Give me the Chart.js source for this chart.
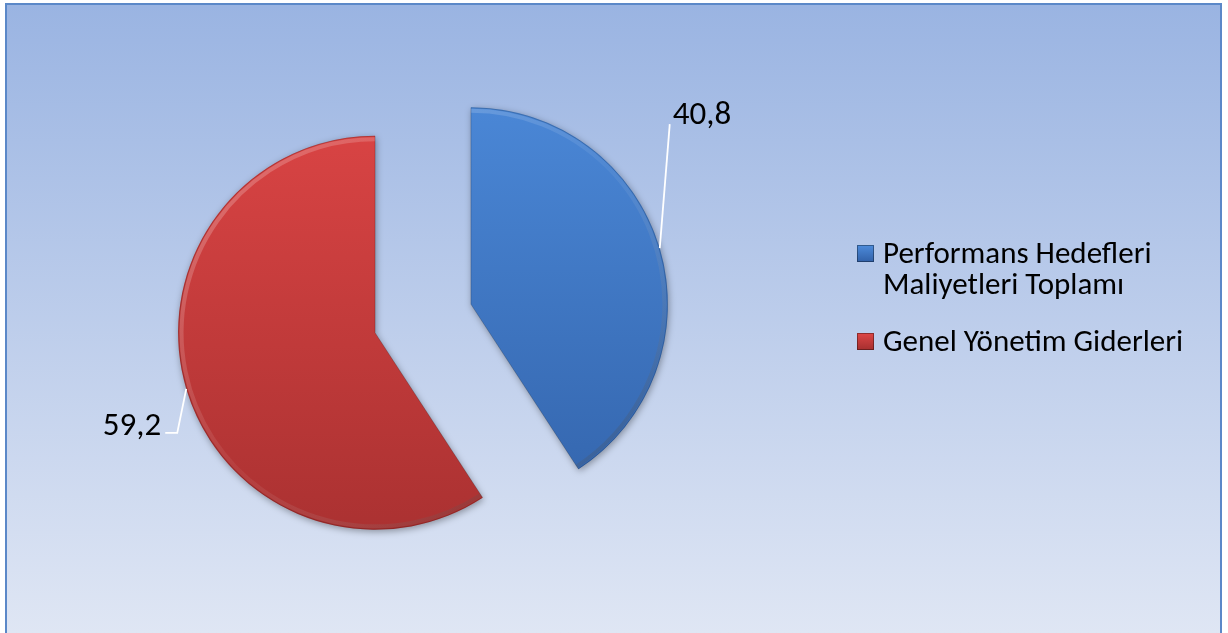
<!DOCTYPE html>
<html><head><meta charset="utf-8">
<script src="https://cdn.jsdelivr.net/npm/chart.js@4/dist/chart.umd.min.js"></script>
<style>html,body{margin:0;padding:0;background:#fff;overflow:hidden}#wrap{width:1228px;height:633px;position:relative}</style>
</head><body><div id="wrap"><canvas id="c" width="1228" height="633"></canvas></div>
<script>
// ---- data ----
const categories = ['Performans Hedefleri Maliyetleri Toplamı', 'Genel Yönetim Giderleri'];
const legendLines = [['Performans Hedefleri', 'Maliyetleri Toplamı'], ['Genel Yönetim Giderleri']];
const values = [40.8, 59.2];

// ---- styles ----
const sliceTop = ['#4d8bdb', '#de4646'];
const sliceBottom = ['#3161a8', '#a52f2f'];
const FONT = 'Carlito, Lato, "Open Sans", sans-serif';

function sliceGradient(ctx, i) {
  const chart = ctx.chart;
  const a = chart.chartArea;
  if (!a) return sliceTop[i];
  const cy = (a.top + a.bottom) / 2;
  const g = chart.ctx.createLinearGradient(0, cy - 250, 0, cy + 250);
  g.addColorStop(0, sliceTop[i]);
  g.addColorStop(1, sliceBottom[i]);
  return g;
}

const bgPlugin = {
  id: 'bg',
  beforeDraw(chart) {
    const c = chart.ctx;
    c.save();
    c.fillStyle = '#ffffff';
    c.fillRect(0, 0, chart.width, chart.height);
    const g = c.createLinearGradient(0, 4, 0, chart.height);
    g.addColorStop(0, '#9ab4e2');
    g.addColorStop(1, '#dfe6f4');
    c.fillStyle = g;
    c.fillRect(6, 4, 1215, chart.height);
    c.strokeStyle = '#5b88c8';
    c.lineWidth = 2;
    c.strokeRect(6, 4, 1215, chart.height + 10);
    c.restore();
  }
};

const explodePlugin = {
  id: 'explode',
  beforeDatasetDraw(chart, args, opts) {
    const c = chart.ctx;
    args.meta.data.forEach((arc) => {
      const mid = (arc.startAngle + arc.endAngle) / 2;
      c.save();
      c.translate(Math.cos(mid) * opts.distance, Math.sin(mid) * opts.distance);
      c.save();
      c.shadowColor = 'rgba(0,0,0,0.35)';
      c.shadowBlur = 7;
      c.shadowOffsetX = 1;
      c.shadowOffsetY = 2;
      arc.draw(c);
      c.restore();
      // bevel rim
      const r = arc.outerRadius;
      const g = c.createLinearGradient(arc.x - r, arc.y - r, arc.x + r, arc.y + r);
      g.addColorStop(0, 'rgba(255,255,255,0.28)');
      g.addColorStop(0.5, 'rgba(255,255,255,0.05)');
      g.addColorStop(1, 'rgba(0,0,0,0.3)');
      c.beginPath();
      c.arc(arc.x, arc.y, r - 3.5, arc.startAngle, arc.endAngle);
      c.strokeStyle = g;
      c.lineWidth = 4;
      c.stroke();
      c.beginPath();
      c.moveTo(arc.x, arc.y);
      c.arc(arc.x, arc.y, r - 0.5, arc.startAngle, arc.endAngle);
      c.closePath();
      c.strokeStyle = 'rgba(0,0,0,0.18)';
      c.lineWidth = 1;
      c.stroke();
      c.restore();
    });
    return false;
  }
};

const labelPlugin = {
  id: 'sliceLabels',
  afterDatasetsDraw(chart, args, opts) {
    const c = chart.ctx;
    const meta = chart.getDatasetMeta(0);
    const dist = chart.options.plugins.explode.distance;
    meta.data.forEach((arc, i) => {
      const p = opts.placement[i];
      const mid = (arc.startAngle + arc.endAngle) / 2;
      const rx = arc.x + Math.cos(mid) * (dist + arc.outerRadius);
      const ry = arc.y + Math.sin(mid) * (dist + arc.outerRadius);
      const ex = rx + p.elbow[0], ey = ry + p.elbow[1];
      c.save();
      c.strokeStyle = '#ffffff';
      c.lineWidth = 1.8;
      c.beginPath();
      c.moveTo(rx, ry);
      c.lineTo(ex, ey);
      if (p.tail) c.lineTo(ex + p.tail, ey);
      c.stroke();
      c.fillStyle = '#000000';
      c.font = '33px ' + FONT;
      c.textAlign = p.align;
      c.textBaseline = 'alphabetic';
      const txt = values[i].toFixed(1).replace('.', ',');
      c.fillText(txt, ex + (p.tail || 0) + p.gap, ey + p.dy);
      c.restore();
    });
  }
};

const legendPlugin = {
  id: 'sideLegend',
  afterDraw(chart, args, opts) {
    const c = chart.ctx;
    c.save();
    c.font = '31px ' + FONT;
    c.fillStyle = '#000';
    c.textAlign = 'left';
    c.textBaseline = 'alphabetic';
    legendLines.forEach((lines, i) => {
      const y0 = opts.baselines[i];
      const ms = 17, mx = opts.markerX, my = y0 - 18;
      const g = c.createLinearGradient(0, my, 0, my + ms);
      g.addColorStop(0, sliceTop[i]);
      g.addColorStop(1, sliceBottom[i]);
      c.fillStyle = g;
      c.fillRect(mx, my, ms, ms);
      c.strokeStyle = 'rgba(0,0,0,0.35)';
      c.lineWidth = 1;
      c.strokeRect(mx + 0.5, my + 0.5, ms - 1, ms - 1);
      c.fillStyle = '#000';
      lines.forEach((t, k) => c.fillText(t, opts.textX, y0 + k * opts.lineGap));
    });
    c.restore();
  }
};

new Chart(document.getElementById('c'), {
  type: 'pie',
  data: {
    labels: categories,
    datasets: [{
      data: values,
      backgroundColor: (ctx) => sliceGradient(ctx, ctx.dataIndex),
      borderWidth: 0,
      radius: 197
    }]
  },
  options: {
    responsive: false,
    animation: false,
    events: [],
    layout: { padding: { left: 0, right: 382, top: 4, bottom: 0 } },
    plugins: {
      legend: { display: false },
      tooltip: { enabled: false },
      explode: { distance: 50 },
      sliceLabels: {
        placement: [
          { elbow: [10, -124], tail: 0, align: 'left', gap: 3, dy: 0 },
          { elbow: [-9, 44], tail: -12, align: 'right', gap: -4, dy: 2 }
        ]
      },
      sideLegend: { baselines: [263, 351], lineGap: 31, markerX: 857, textX: 883 }
    }
  },
  plugins: [bgPlugin, explodePlugin, labelPlugin, legendPlugin]
});
</script>
</body></html>
